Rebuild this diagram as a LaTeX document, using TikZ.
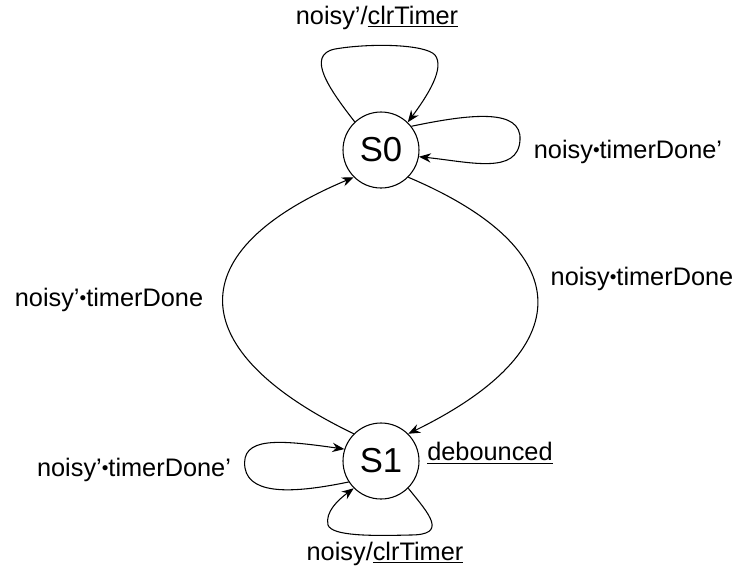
\documentclass[tikz,border=0pt]{standalone}
\usepackage{fontspec}
\setmainfont{Liberation Sans}
\usetikzlibrary{arrows.meta}
\newcommand\andop{\raisebox{0.12ex}{\scalebox{0.75}{•}}}

\begin{document}
\begin{tikzpicture}[x=0.75pt,y=-0.75pt,
  state/.style={draw,circle,line width=0.8pt,minimum size=57pt,inner sep=0pt,font=\fontsize{26}{30}\selectfont},
  lbl/.style={font=\fontsize{19}{22}\selectfont,inner sep=0pt},
  trans/.style={line width=0.8pt,-{Stealth[length=9pt,width=7pt,inset=3pt]}}]
  \useasboundingbox (0,0) rectangle (751,569);
  \node[state] (s0) at (381,150) {S0};
  \node[state] (s1) at (381,461) {S1};
  % self loops on S0
  \draw[trans] (s0.133) .. controls (330,90) and (305,55) .. (335,49)
    .. controls (370,43) and (425,44) .. (435,55)
    .. controls (445,68) and (428,95) .. (s0.46);
  \draw[trans] (s0.38) .. controls (470,114) and (522,108) .. (520,140)
    .. controls (518,175) and (470,162) .. (s0.-10);
  % between the states
  \draw[trans] (s0.-45) .. controls (580,250) and (580,350) .. (s1.45);
  \draw[trans] (s1.135) .. controls (180,350) and (180,250) .. (s0.-135);
  % self loops on S1
  \draw[trans] (s1.-147) .. controls (300,492) and (250,497) .. (245,468)
    .. controls (240,436) and (280,440) .. (s1.162);
  \draw[trans] (s1.-45) .. controls (430,515) and (448,535) .. (410,535)
    .. controls (370,536) and (332,536) .. (328,525)
    .. controls (325,512) and (338,500) .. (s1.-135);
  % labels
  \node[lbl] (l0a) at (377,18) {noisy’/\underline{clrTimer}};
  \node[lbl] (l0b) at (628,152) {noisy\andop timerDone’};
  \node[lbl] (l01) at (642,279) {noisy\andop timerDone};
  \node[lbl] (l10) at (109,300) {noisy’\andop timerDone};
  \node[lbl] (l1a) at (134,470) {noisy’\andop timerDone’};
  \node[lbl] (l1o) at (490,453) {\underline{debounced}};
  \node[lbl] (l1b) at (385,554) {noisy/\underline{clrTimer}};
\end{tikzpicture}
\end{document}
